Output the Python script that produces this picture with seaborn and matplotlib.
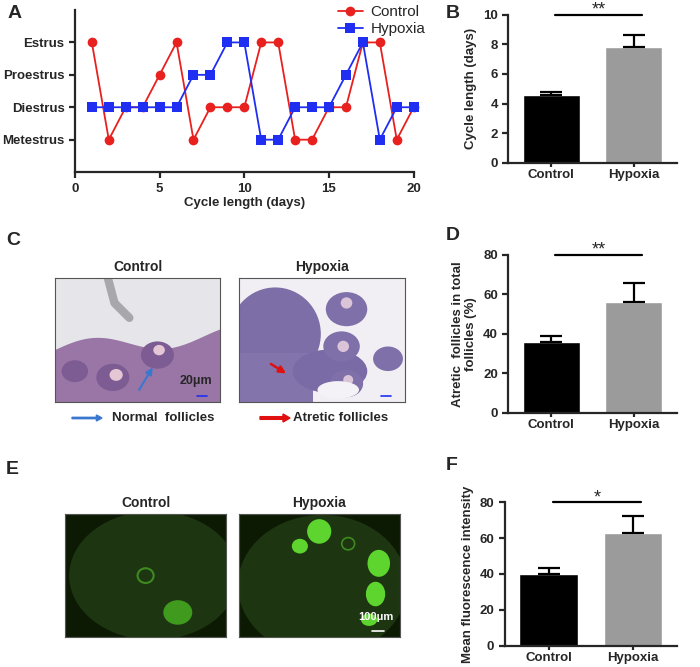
import numpy as np
import pandas as pd
import matplotlib
matplotlib.use("Agg")
import matplotlib.pyplot as plt
from matplotlib.patches import Ellipse, Polygon, Rectangle, FancyArrow
import seaborn as sns

# ---- data ----
days = list(range(1, 21))
stage_names = ["Metestrus", "Diestrus", "Proestrus", "Estrus"]
control_stage = [4, 1, 2, 2, 3, 4, 1, 2, 2, 2, 4, 4, 1, 1, 2, 2, 4, 4, 1, 2]
hypoxia_stage = [2, 2, 2, 2, 2, 2, 3, 3, 4, 4, 1, 1, 2, 2, 2, 3, 4, 1, 2, 2]

groups = ["Control", "Hypoxia"]
cycle_mean = [4.6, 7.8]
cycle_err = [0.15, 0.8]
atretic_mean = [36, 56]
atretic_err = [3, 9.5]
fluor_mean = [40, 63]
fluor_err = [3.5, 9.5]

bar_colors = ["#000000", "#9b9b9b"]

sns.set_style("ticks")
plt.rcParams["font.family"] = ["Liberation Sans", "DejaVu Sans"]
plt.rcParams["font.weight"] = "bold"
plt.rcParams["axes.labelweight"] = "bold"

fig = plt.figure(figsize=(7.0, 6.67), dpi=100)


def style_axes(ax):
    for s in ["left", "bottom"]:
        ax.spines[s].set_linewidth(1.6)
    sns.despine(ax=ax)
    ax.tick_params(width=1.6, length=4, labelsize=9.5)
    for lab in ax.get_xticklabels() + ax.get_yticklabels():
        lab.set_fontweight("bold")


# ---- A: cycle line plot ----
axA = fig.add_axes([0.107, 0.742, 0.484, 0.243])
dfA = pd.DataFrame({
    "day": days * 2,
    "stage": control_stage + hypoxia_stage,
    "group": ["Control"] * 20 + ["Hypoxia"] * 20,
})
sns.lineplot(data=dfA, x="day", y="stage", hue="group", style="group",
             markers={"Control": "o", "Hypoxia": "s"}, dashes=False,
             palette={"Control": "#e8201e", "Hypoxia": "#1f2ef0"},
             markersize=7, markeredgewidth=0, linewidth=1.3, ax=axA)
axA.set_xlim(0, 20)
axA.set_ylim(0, 5)
axA.set_xticks([0, 5, 10, 15, 20])
axA.set_yticks([1, 2, 3, 4])
axA.set_yticklabels(stage_names)
axA.set_xlabel("Cycle length (days)", fontsize=9.5, labelpad=2)
axA.set_ylabel("")
for c in axA.lines:
    c.set_clip_on(False)
style_axes(axA)
axA.legend(handles=axA.get_legend_handles_labels()[0],
           labels=groups, loc="upper left", bbox_to_anchor=(0.47, 1.006),
           bbox_transform=fig.transFigure, frameon=False, fontsize=11,
           handlelength=1.6, handletextpad=0.5, borderpad=0.1,
           labelspacing=0.2)
for t in axA.get_legend().get_texts():
    t.set_fontweight("normal")


# ---- bar panels ----
def bar_panel(rect, means, errs, ymax, ystep, ylabel, stars):
    ax = fig.add_axes(rect)
    dfb = pd.DataFrame({"group": groups, "value": means})
    sns.barplot(data=dfb, x="group", y="value", hue="group",
                palette=dict(zip(groups, bar_colors)), width=0.69,
                legend=False, ax=ax)
    ax.errorbar(range(len(groups)), means, yerr=[[0] * len(errs), errs],
                fmt="none", ecolor="black", elinewidth=1.6, capsize=8,
                capthick=1.6)
    ax.set_xlim(-0.52, 1.52)
    ax.set_ylim(0, ymax)
    ax.set_yticks(np.arange(0, ymax + 0.1, ystep))
    ax.set_xlabel("")
    ax.set_ylabel(ylabel, fontsize=9.5)
    ax.plot([0.05, 1.1], [ymax, ymax], color="black", lw=1.6, clip_on=False)
    ax.annotate(stars, xy=(0.575, ymax), xytext=(0, 0),
                textcoords="offset points", ha="center", va="baseline",
                fontsize=13, fontweight="normal")
    style_axes(ax)
    ax.tick_params(axis="x", length=3, pad=1.5)
    return ax


bar_panel([0.726, 0.756, 0.241, 0.222], cycle_mean, cycle_err, 10, 2,
          "Cycle length (days)", "**")
bar_panel([0.726, 0.381, 0.241, 0.237], atretic_mean, atretic_err, 80, 20,
          "Atretic  follicles in total\nfollicles (%)", "**")
bar_panel([0.721, 0.032, 0.246, 0.215], fluor_mean, fluor_err, 80, 20,
          "Mean fluorescence intensity", "*")


# ---- image placeholders ----
def img_axes(rect, face, title):
    ax = fig.add_axes(rect)
    ax.set_xlim(0, 1)
    ax.set_ylim(0, 1)
    ax.set_xticks([])
    ax.set_yticks([])
    ax.set_facecolor(face)
    for s in ax.spines.values():
        s.set_color("#555555")
        s.set_linewidth(0.8)
    ax.set_title(title, fontsize=10, fontweight="bold", pad=5)
    return ax


# C control (H&E)
c1 = img_axes([0.0786, 0.397, 0.236, 0.186], "#e6e6ea", "Control")
xs = np.linspace(0, 1, 40)
top = 0.42 + 0.07 * np.sin(xs * 7) + 0.12 * xs
c1.add_patch(Polygon(np.column_stack([np.r_[xs, 1, 0], np.r_[top, 0, 0]]),
                     color="#9a76a6", lw=0))
c1.plot([0.32, 0.36, 0.45], [1.0, 0.8, 0.68], color="#a8a8ac", lw=6,
        solid_capstyle="round")
for (x, y, w) in [(0.35, 0.2, 0.2), (0.62, 0.38, 0.2), (0.12, 0.25, 0.16)]:
    c1.add_patch(Ellipse((x, y), w, w * 1.1, color="#7c5c92", lw=0))
for (x, y, w) in [(0.37, 0.22, 0.08), (0.63, 0.42, 0.07)]:
    c1.add_patch(Ellipse((x, y), w, w * 1.2, color="#e4c6d4", lw=0))
c1.annotate("", xy=(0.6, 0.3), xytext=(0.5, 0.08),
            arrowprops=dict(arrowstyle="-|>", color="#3a78d0", lw=1.5))
c1.text(0.95, 0.12, "20μm", ha="right", va="bottom", fontsize=9,
        fontweight="bold")
c1.plot([0.86, 0.92], [0.05, 0.05], color="#1f2ef0", lw=1.2)

# C hypoxia (H&E)
c2 = img_axes([0.341, 0.397, 0.237, 0.186], "#f2eff4", "Hypoxia")
c2.add_patch(Ellipse((0.22, 0.55), 0.55, 0.75, color="#7d6ea8", lw=0))
c2.add_patch(Rectangle((0, 0), 0.45, 0.4, color="#8474ac", lw=0))
c2.add_patch(Ellipse((0.55, 0.25), 0.45, 0.35, color="#7a6aa6", lw=0))
for (x, y, w) in [(0.65, 0.75, 0.25), (0.62, 0.45, 0.22), (0.65, 0.15, 0.2),
                  (0.9, 0.35, 0.18)]:
    c2.add_patch(Ellipse((x, y), w, w * 1.1, color="#8070aa", lw=0))
for (x, y, w) in [(0.65, 0.8, 0.07), (0.63, 0.45, 0.07), (0.66, 0.18, 0.06)]:
    c2.add_patch(Ellipse((x, y), w, w * 1.3, color="#dcc4d8", lw=0))
c2.add_patch(Ellipse((0.6, 0.1), 0.25, 0.14, color="#f4f2f6", lw=0))
c2.annotate("", xy=(0.3, 0.22), xytext=(0.18, 0.32),
            arrowprops=dict(arrowstyle="-|>", color="#e01010", lw=1.8))
c2.plot([0.86, 0.92], [0.05, 0.05], color="#1f2ef0", lw=1.2)

# E fluorescence
e1 = img_axes([0.093, 0.045, 0.230, 0.184], "#0c1a04", "Control")
e1.add_patch(Ellipse((0.55, 0.5), 1.05, 1.05, color="#1d3510", lw=0))
e1.add_patch(Ellipse((0.5, 0.5), 0.1, 0.12, fill=False, ec="#3d8a20", lw=1.5))
e1.add_patch(Ellipse((0.7, 0.2), 0.18, 0.2, color="#3f9a1e", lw=0))

e2 = img_axes([0.341, 0.045, 0.230, 0.184], "#0c1a04", "Hypoxia")
e2.add_patch(Ellipse((0.52, 0.42), 1.05, 1.15, color="#1d3510", lw=0))
for (x, y, w, h) in [(0.5, 0.86, 0.15, 0.2), (0.38, 0.74, 0.1, 0.12),
                     (0.87, 0.6, 0.14, 0.22), (0.85, 0.35, 0.12, 0.2),
                     (0.81, 0.14, 0.1, 0.1)]:
    e2.add_patch(Ellipse((x, y), w, h, color="#5ed42e", lw=0))
e2.add_patch(Ellipse((0.68, 0.76), 0.08, 0.1, fill=False, ec="#3d8a20", lw=1.2))
e2.text(0.96, 0.12, "100μm", ha="right", va="bottom", fontsize=8,
        fontweight="bold", color="white")
e2.plot([0.83, 0.9], [0.05, 0.05], color="white", lw=1.2)

# follicle legend under C
fig.patches.append(FancyArrow(
    72 / 700, 1 - 418 / 667, 30 / 700, 0, width=0.002, head_width=0.009,
    head_length=0.008, length_includes_head=True, color="#3a78d0",
    transform=fig.transFigure))
fig.text(112 / 700, 1 - 418 / 667, "Normal  follicles", fontsize=9.5,
         fontweight="bold", va="center")
fig.patches.append(FancyArrow(
    260 / 700, 1 - 418 / 667, 30 / 700, 0, width=0.004, head_width=0.012,
    head_length=0.010, length_includes_head=True, color="#e01010",
    transform=fig.transFigure))
fig.text(293 / 700, 1 - 418 / 667, "Atretic follicles", fontsize=9.5,
         fontweight="bold", va="center")

# panel letters
for letter, x, y in [("A", 8, 14), ("B", 446, 14), ("C", 6, 240),
                     ("D", 446, 236), ("E", 6, 470), ("F", 446, 466)]:
    fig.text(x / 700, 1 - y / 667, letter, fontsize=14, fontweight="bold",
             va="center")

fig.savefig("out.png", dpi=100)
